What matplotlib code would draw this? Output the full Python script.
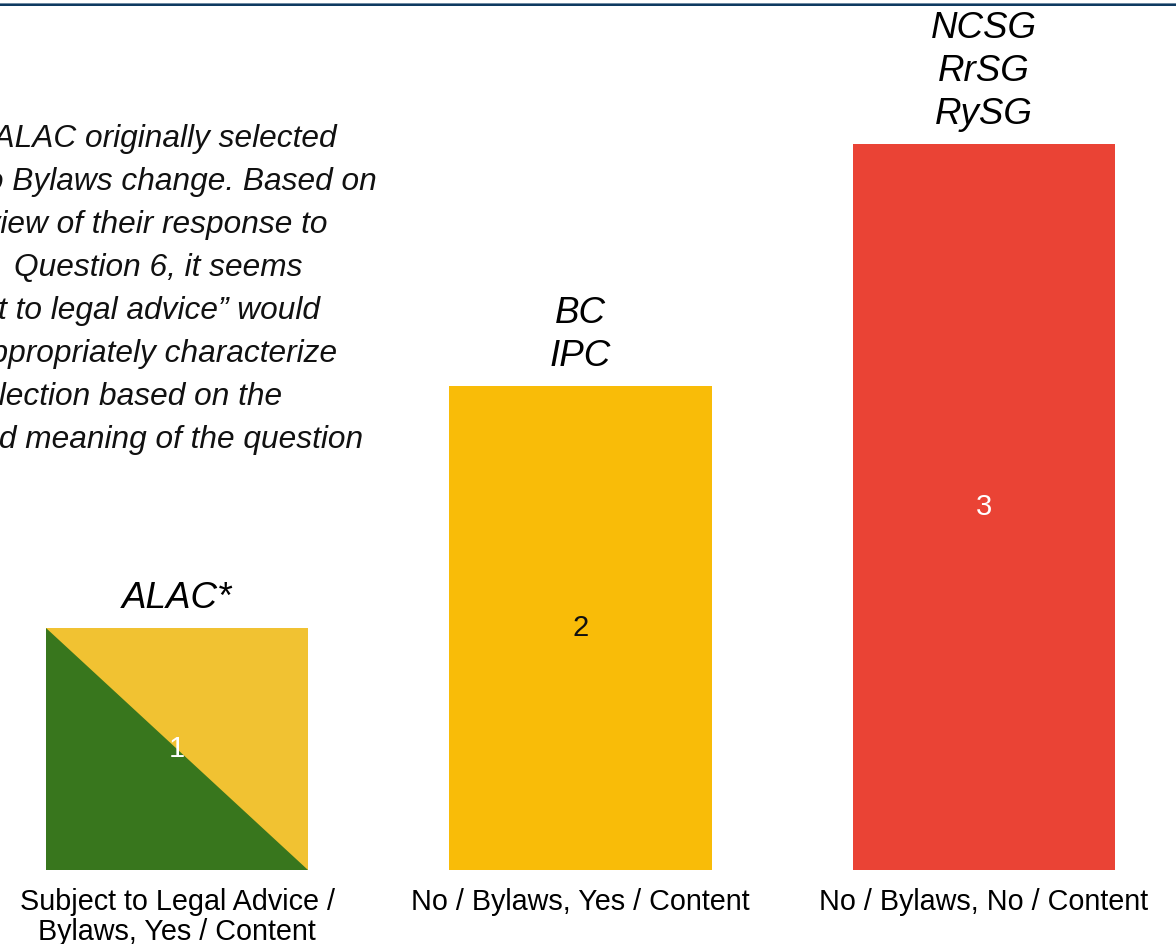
import matplotlib
matplotlib.use("Agg")
import matplotlib.pyplot as plt
from matplotlib.patches import Polygon, Rectangle

plt.rcParams["font.family"] = ["Liberation Sans", "DejaVu Sans"]

# 数据
categories = ["Subject to Legal Advice /\nBylaws, Yes / Content",
              "No / Bylaws, Yes / Content",
              "No / Bylaws, No / Content"]
counts = [1, 2, 3]
groups = ["ALAC*", "BC\nIPC", "NCSG\nRrSG\nRySG"]
note_lines = ["*The ALAC originally selected",
              "No Bylaws change. Based on",
              "a review of their response to",
              "Question 6, it seems",
              "\u201csubject to legal advice\u201d would",
              "more appropriately characterize",
              "their selection based on the",
              "intended meaning of the question"]

# 样式
bar_colors = ["#f1c232", "#f9bc08", "#ea4335"]
split_green = "#38761d"
value_colors = ["white", "#111111", "white"]

W, H = 1176, 944
fig = plt.figure(figsize=(W / 100, H / 100), dpi=100)
base_px = 870      # 柱子底边像素位置
unit_px = 242      # 每个计数单位的像素高度
step_px = 403.5    # 柱间距
first_px = 177     # 第一根柱中心
ax = fig.add_axes([0, (H - base_px) / H, 1, base_px / H])
ax.set_xlim(-first_px / step_px, (W - first_px) / step_px)
ax.set_ylim(0, base_px / unit_px)

x = list(range(len(counts)))
bars = ax.bar(x, counts, width=262 / step_px, color=bar_colors, zorder=2)

# ALAC 柱：左下三角为绿色
p = bars[0]
x0, w, h = p.get_x(), p.get_width(), p.get_height()
ax.add_patch(Polygon([(x0, h), (x0, 0), (x0 + w, 0)], closed=True,
                     facecolor=split_green, edgecolor="none", zorder=3))

for i, v in enumerate(counts):
    ax.text(i, v / 2, str(v), ha="center", va="center", fontsize=21,
            color=value_colors[i], zorder=4)
    ax.annotate(groups[i], (i, v), xytext=(0, 8.5), textcoords="offset points",
                ha="center", va="bottom", fontsize=26.5, style="italic",
                linespacing=1.3)

ax.set_xticks(x, categories, fontsize=20.7)
plt.setp(ax.get_xticklabels(), linespacing=1.1)
ax.tick_params(axis="x", length=0, pad=13)
ax.set_yticks([])
for s in ax.spines.values():
    s.set_visible(False)

# 左侧说明文字（左边被裁掉）
note_right = [337, 377, 327, 302, 320, 337, 282, 363]
for k, line in enumerate(note_lines):
    fig.text(note_right[k] / W, 1 - (147 + 43 * k) / H, line, ha="right",
             va="baseline", fontsize=22.8, style="italic", color="#111111")

# 顶部深蓝分隔线
fig.add_artist(Rectangle((0, 1 - 4 / H), 1, 1 / H, transform=fig.transFigure,
                         facecolor="#6f8aa2", edgecolor="none"))
fig.add_artist(Rectangle((0, 1 - 6 / H), 1, 2 / H, transform=fig.transFigure,
                         facecolor="#0f3a61", edgecolor="none"))

fig.savefig("out.png", dpi=100)
